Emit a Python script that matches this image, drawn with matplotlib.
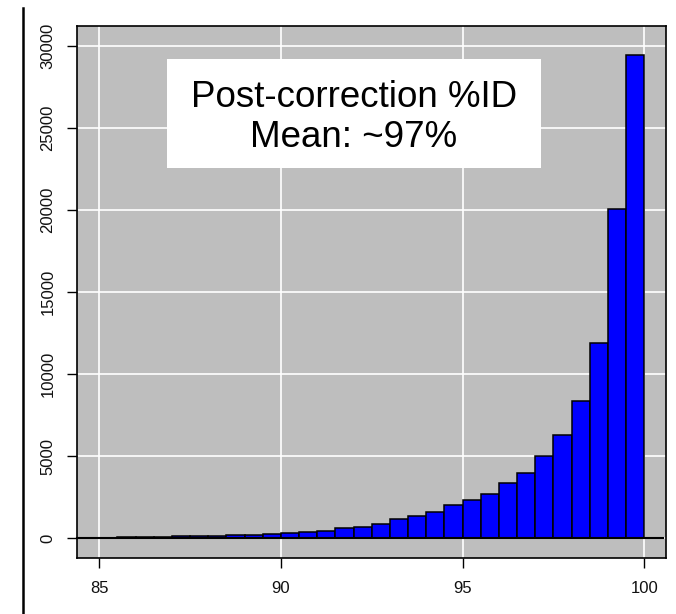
import matplotlib
matplotlib.use("Agg")
import matplotlib.pyplot as plt
from matplotlib.lines import Line2D
from matplotlib.patches import Rectangle

plt.rcParams['font.family'] = ['Liberation Sans', 'DejaVu Sans']

# Histogram data (bin left edges, width 0.5) and counts
bin_starts = [85.5, 86.0, 86.5, 87.0, 87.5, 88.0, 88.5, 89.0, 89.5, 90.0,
              90.5, 91.0, 91.5, 92.0, 92.5, 93.0, 93.5, 94.0, 94.5, 95.0,
              95.5, 96.0, 96.5, 97.0, 97.5, 98.0, 98.5, 99.0, 99.5]
counts = [90, 100, 100, 120, 140, 160, 185, 220, 245, 325,
          385, 445, 610, 690, 900, 1165, 1360, 1605, 2030, 2355,
          2700, 3350, 3960, 5040, 6300, 8390, 11890, 20050, 29450]
bin_width = 0.5
x_ticks = [85, 90, 95, 100]
y_ticks = [0, 5000, 10000, 15000, 20000, 25000, 30000]
title_lines = ["Post-correction %ID", "Mean: ~97%"]

W, H = 676, 614
fig = plt.figure(figsize=(W / 100, H / 100), dpi=100)
left, right, top, bottom = 77.3, 666.0, 26.0, 558.3
ax = fig.add_axes([left / W, 1 - bottom / H, (right - left) / W, (bottom - top) / H])
ax.set_facecolor('#BEBEBE')
ax.set_xlim(84.395, 100.597)
ax.set_ylim(-1219, 31218)

for xv in x_ticks:
    ax.axvline(xv, color='white', lw=1.2, zorder=1)
for yv in y_ticks:
    ax.axhline(yv, color='white', lw=1.2, zorder=1)

ax.bar(bin_starts, counts, width=bin_width, align='edge', color='#0000FF',
       edgecolor='black', linewidth=1.1, zorder=3)

ax.plot([0, 0.995], [0, 0], transform=ax.get_yaxis_transform(), color='black',
        lw=1.5, zorder=4, clip_on=False)

ax.set_xticks(x_ticks)
ax.set_xticklabels([str(v) for v in x_ticks])
ax.set_yticks(y_ticks)
ax.set_yticklabels([str(v) for v in y_ticks], rotation=90, va='center')
ax.tick_params(axis='both', direction='out', length=7.2, width=1.0, color='black',
               labelsize=12, labelcolor='#111111')
ax.tick_params(axis='x', pad=9)
ax.tick_params(axis='y', pad=8.5)
for s in ax.spines.values():
    s.set_color('black')
    s.set_linewidth(1.2)

# white label box
bx0, bx1, by0, by1 = 167, 541, 59, 168
fig.patches.append(Rectangle((bx0 / W, 1 - by1 / H), (bx1 - bx0) / W, (by1 - by0) / H,
                             transform=fig.transFigure, facecolor='white',
                             edgecolor='none', zorder=5))
fig.text(354 / W, 1 - 106.7 / H, title_lines[0], ha='center', va='baseline',
         fontsize=26.5, color='black', zorder=6)
fig.text(354 / W, 1 - 146.7 / H, title_lines[1], ha='center', va='baseline',
         fontsize=26.5, color='black', zorder=6)

# vertical line at the far left
fig.add_artist(Line2D([23 / W, 23 / W], [0, 1 - 8 / H], transform=fig.transFigure,
                      color='black', lw=1.8))

fig.savefig('out.png', dpi=100)
